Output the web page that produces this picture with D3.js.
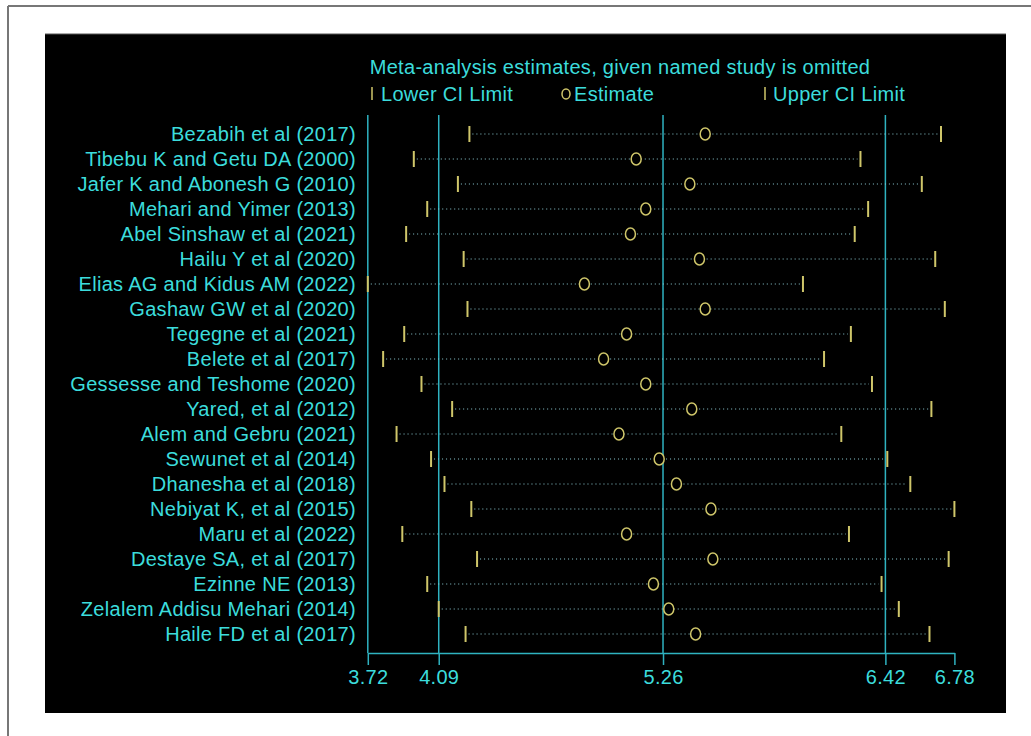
<!DOCTYPE html>
<html>
<head>
<meta charset="utf-8">
<script src="https://cdn.jsdelivr.net/npm/d3@7"></script>
<style>
  body { margin: 0; background: #fff; }
  text { font-family: "Liberation Sans", Arial, sans-serif; letter-spacing: 0.3px; }
</style>
</head>
<body>
<svg id="chart"></svg>
<script>
// Data
const studies = [
    "Bezabih et al (2017)", "Tibebu K and Getu DA (2000)", "Jafer K and Abonesh G (2010)",
    "Mehari and Yimer (2013)", "Abel Sinshaw et al (2021)", "Hailu Y et al (2020)",
    "Elias AG and Kidus AM (2022)", "Gashaw GW et al (2020)", "Tegegne et al (2021)",
    "Belete et al (2017)", "Gessesse and Teshome (2020)", "Yared, et al (2012)",
    "Alem and Gebru (2021)", "Sewunet et al (2014)", "Dhanesha et al (2018)",
    "Nebiyat K, et al (2015)", "Maru et al (2022)", "Destaye SA, et al (2017)",
    "Ezinne NE (2013)", "Zelalem Addisu Mehari (2014)", "Haile FD et al (2017)"
]
const lowerCI = [4.25, 3.96, 4.19, 4.03, 3.92, 4.22, 3.72, 4.24, 3.91, 3.80, 4.00,
    4.16, 3.87, 4.05, 4.12, 4.26, 3.90, 4.29, 4.03, 4.09, 4.23]
const estimate = [5.48, 5.12, 5.40, 5.17, 5.09, 5.45, 4.85, 5.48, 5.07, 4.95, 5.17,
    5.41, 5.03, 5.24, 5.33, 5.51, 5.07, 5.52, 5.21, 5.29, 5.43]
const upperCI = [6.71, 6.29, 6.61, 6.33, 6.26, 6.68, 5.99, 6.73, 6.24, 6.10, 6.35,
    6.66, 6.19, 6.43, 6.55, 6.78, 6.23, 6.75, 6.40, 6.49, 6.65]
const tickValues = [3.72, 4.09, 5.26, 6.42, 6.78]
const refLines = [3.72, 4.09, 5.26, 6.42]

// Colours
const cyan = "#3cdcdc"
const teal = "#2fb2c0"
const yellow = "#cfc66a"
const dots = "#8ccad2"

var svgWidth = 1031, svgHeight = 736
var fontSize = "20px"

var svg = d3.select("#chart")
    .attr("width", svgWidth)
    .attr("height", svgHeight)

// outer frame
svg.append("line").attr("x1", 8).attr("y1", 6).attr("x2", 8).attr("y2", svgHeight)
    .attr("stroke", "#777").attr("stroke-width", 2)
svg.append("line").attr("x1", 8).attr("y1", 6).attr("x2", svgWidth).attr("y2", 6)
    .attr("stroke", "#777").attr("stroke-width", 2)

// black panel
svg.append("rect").attr("x", 45).attr("y", 34).attr("width", 961).attr("height", 679)
    .attr("fill", "#000")
svg.append("line").attr("x1", 45).attr("y1", 34).attr("x2", 1006).attr("y2", 34)
    .attr("stroke", "#555").attr("stroke-width", 1)

var x = d3.scaleLinear().domain([3.72, 6.78]).range([367.8, 954.4])
var y = d3.scalePoint().domain(studies).range([134, 634])

var axisY = 653

// title + legend
svg.append("text").attr("x", 620).attr("y", 74).attr("text-anchor", "middle")
    .attr("fill", cyan).style("font-size", fontSize)
    .text("Meta-analysis estimates, given named study is omitted")

var legendY = 94
svg.append("line").attr("x1", 372).attr("x2", 372).attr("y1", legendY - 7).attr("y2", legendY + 6)
    .attr("stroke", yellow).attr("stroke-width", 1.5)
svg.append("text").attr("x", 381).attr("y", legendY + 7).attr("fill", cyan)
    .style("font-size", fontSize).text("Lower CI Limit")
svg.append("ellipse").attr("cx", 566).attr("cy", legendY).attr("rx", 4).attr("ry", 5)
    .attr("fill", "none").attr("stroke", yellow).attr("stroke-width", 1.5)
svg.append("text").attr("x", 574).attr("y", legendY + 7).attr("fill", cyan)
    .style("font-size", fontSize).text("Estimate")
svg.append("line").attr("x1", 765).attr("x2", 765).attr("y1", legendY - 7).attr("y2", legendY + 6)
    .attr("stroke", yellow).attr("stroke-width", 1.5)
svg.append("text").attr("x", 773).attr("y", legendY + 7).attr("fill", cyan)
    .style("font-size", fontSize).text("Upper CI Limit")

// reference lines
svg.selectAll(".ref")
    .data(refLines)
    .enter()
    .append("line")
    .attr("class", "ref")
    .attr("x1", (d) => x(d)).attr("x2", (d) => x(d))
    .attr("y1", 115).attr("y2", axisY)
    .attr("stroke", teal).attr("stroke-width", 1.5)

// x axis
var axis = svg.append("g")
    .attr("transform", "translate(0," + axisY + ")")
    .call(d3.axisBottom(x).tickValues(tickValues).tickSizeInner(12).tickSizeOuter(0)
        .tickFormat((d) => d.toFixed(2)))
axis.select(".domain").attr("stroke", teal).attr("stroke-width", 1.5)
axis.selectAll(".tick line").attr("stroke", teal).attr("stroke-width", 1.5)
axis.selectAll(".tick text").attr("fill", cyan).attr("y", 17).attr("dy", "0.71em")
    .style("font-size", fontSize).style("font-family", "'Liberation Sans', Arial, sans-serif")

// study rows
var rows = svg.selectAll(".row")
    .data(studies)
    .enter()
    .append("g")
    .attr("class", "row")
    .attr("transform", (d) => "translate(0," + y(d) + ")")

rows.append("text")
    .attr("x", 356).attr("y", 7)
    .attr("text-anchor", "end")
    .attr("fill", cyan)
    .style("font-size", fontSize)
    .text((d) => d)

rows.append("line")
    .attr("x1", (d, i) => x(lowerCI[i]) + 3)
    .attr("x2", (d, i) => x(upperCI[i]) - 3)
    .attr("stroke", dots).attr("stroke-width", 1)
    .attr("stroke-dasharray", "1,3")

rows.append("line")
    .attr("x1", (d, i) => x(lowerCI[i])).attr("x2", (d, i) => x(lowerCI[i]))
    .attr("y1", -8).attr("y2", 8)
    .attr("stroke", yellow).attr("stroke-width", 2)

rows.append("line")
    .attr("x1", (d, i) => x(upperCI[i])).attr("x2", (d, i) => x(upperCI[i]))
    .attr("y1", -8).attr("y2", 8)
    .attr("stroke", yellow).attr("stroke-width", 2)

rows.append("ellipse")
    .attr("cx", (d, i) => x(estimate[i]))
    .attr("rx", 5).attr("ry", 6)
    .attr("fill", "#000")
    .attr("stroke", yellow).attr("stroke-width", 1.5)
</script>
</body>
</html>
